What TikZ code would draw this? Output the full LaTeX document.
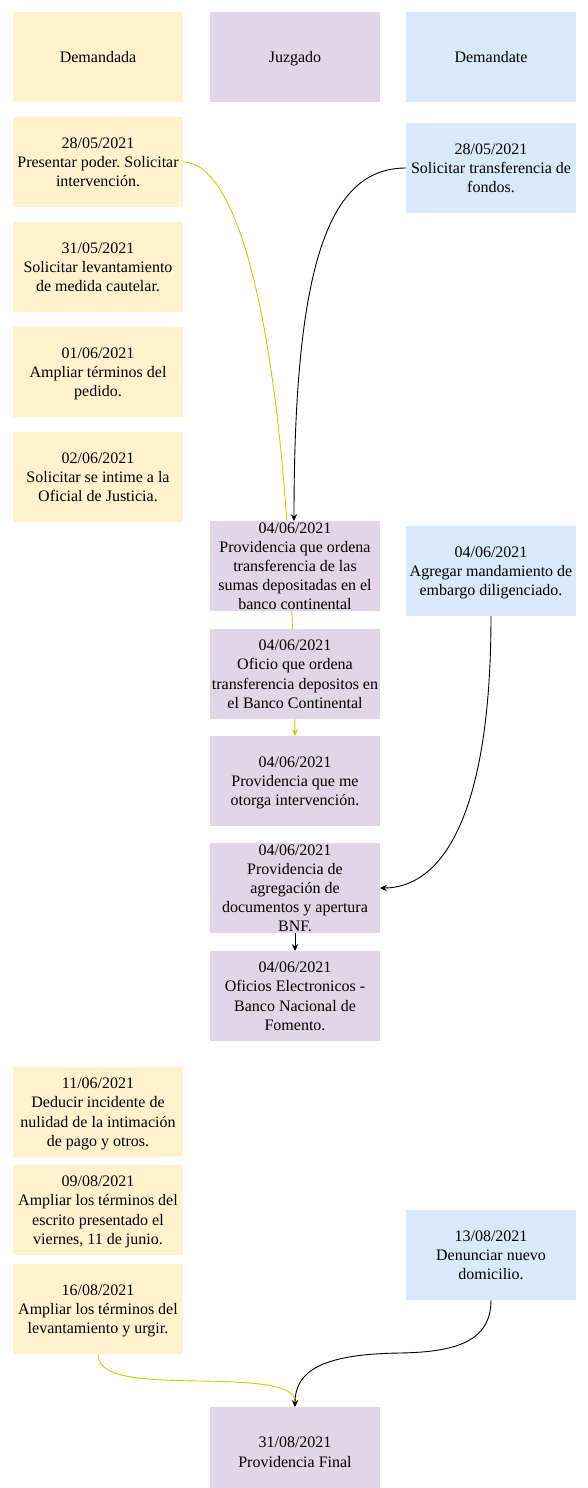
\documentclass[tikz,border=0pt]{standalone}
\usepackage{fontspec}
\setmainfont{Liberation Serif}
\usetikzlibrary{arrows.meta}
\definecolor{dmy}{HTML}{FFF2CC}
\definecolor{jzp}{HTML}{E1D5E7}
\definecolor{dmb}{HTML}{DAE8FC}
\definecolor{ylw}{HTML}{CCCC00}
\frenchspacing
\newcommand\ls{\rule[-4.2pt]{0pt}{19.2pt}}
\newcommand\mkbox[5]{%
  \node[boxst, fill=#4] (#1) at (#2,#3) {};
  \node[txtst] (#1t) at (#1.center) {#5};}
\pgfdeclarelayer{bg}
\pgfsetlayers{bg,main}
\begin{document}
\begin{tikzpicture}[x=1pt,y=-1pt,
  boxst/.style={draw=none, anchor=north west, minimum width=170pt, minimum height=90pt, inner sep=0pt, outer sep=0pt},
  txtst/.style={inner sep=0pt, align=center, font=\fontsize{16}{19.2}\selectfont\frenchspacing},
  tip/.style={-{Stealth[length=7pt,width=6.5pt,inset=2.5pt]}},
  yl/.style={draw=ylw, line width=0.9pt},
  bk/.style={draw=black, line width=0.9pt}]
\useasboundingbox (0,0) rectangle (587,1488);
\clip (0,0) rectangle (587,1488);
% headers
\mkbox{d0}{13}{12}{dmy}{\ls Demandada}
\mkbox{j0}{210}{12}{jzp}{\ls Juzgado}
\mkbox{b0}{406}{12}{dmb}{\ls Demandate}
% Demandada column
\mkbox{d1}{13}{117}{dmy}{\ls 28/05/2021\\ \ls Presentar poder. Solicitar\\ \ls intervención.}
\mkbox{d2}{13}{222}{dmy}{\ls 31/05/2021\\ \ls Solicitar levantamiento\\ \ls de medida cautelar.}
\mkbox{d3}{13}{327}{dmy}{\ls 01/06/2021\\ \ls Ampliar términos del\\ \ls pedido.}
\mkbox{d4}{13}{432}{dmy}{\ls 02/06/2021\\ \ls Solicitar se intime a la\\ \ls Oficial de Justicia.}
\mkbox{d5}{13}{1067}{dmy}{\ls 11/06/2021\\ \ls Deducir incidente de\\ \ls nulidad de la intimación\\ \ls de pago y otros.}
\mkbox{d6}{13}{1165}{dmy}{\ls 09/08/2021\\ \ls Ampliar los términos del\\ \ls escrito presentado el\\ \ls viernes, 11 de junio.}
\mkbox{d7}{13}{1264}{dmy}{\ls 16/08/2021\\ \ls Ampliar los términos del\\ \ls levantamiento y urgir.}
% Juzgado column
\mkbox{j1}{210}{521}{jzp}{\ls 04/06/2021\\ \ls Providencia que ordena\\ \ls transferencia de las\\ \ls sumas depositadas en el\\ \ls banco continental}
\mkbox{j2}{210}{629}{jzp}{\ls 04/06/2021\\ \ls Oficio que ordena\\ \ls transferencia depositos en\\ \ls el Banco Continental}
\mkbox{j3}{210}{736}{jzp}{\ls 04/06/2021\\ \ls Providencia que me\\ \ls otorga intervención.}
\mkbox{j4}{210}{843}{jzp}{\ls 04/06/2021\\ \ls Providencia de\\ \ls agregación de\\ \ls documentos y apertura\\ \ls BNF.}
\mkbox{j5}{210}{951}{jzp}{\ls 04/06/2021\\ \ls Oficios Electronicos -\\ \ls Banco Nacional de\\ \ls Fomento.}
\mkbox{jf}{210}{1407}{jzp}{\ls 31/08/2021\\ \ls Providencia Final}
% Demandante column
\mkbox{b1}{406}{123}{dmb}{\ls 28/05/2021\\ \ls Solicitar transferencia de\\ \ls fondos.}
\mkbox{b2}{406}{526}{dmb}{\ls 04/06/2021\\ \ls Agregar mandamiento de\\ \ls embargo diligenciado.}
\mkbox{b3}{406}{1210}{dmb}{\ls 13/08/2021\\ \ls Denunciar nuevo\\ \ls domicilio.}
% connectors
\begin{pgfonlayer}{bg}
\draw[yl,tip] (d1.east) .. controls (240,162) and (290,340) .. (j3.north);
\draw[bk,tip] (b1.west) .. controls (330,168) and (294,260) .. ([xshift=-1pt]j1.north);
\draw[bk,tip] (b2.south) .. controls (491,820) and (440,888) .. (j4.east);
\draw[bk,tip] (j4.south) -- (j5.north);
\draw[yl,tip] (d7.south) .. controls (98,1378) and (140,1380) .. (200,1381) .. controls (275,1382) and (295,1388) .. (jf.north);
\draw[bk,tip] (b3.south) .. controls (491,1342) and (455,1352) .. (400,1353) .. controls (320,1354) and (295,1372) .. (jf.north);
\end{pgfonlayer}
\end{tikzpicture}
\end{document}
